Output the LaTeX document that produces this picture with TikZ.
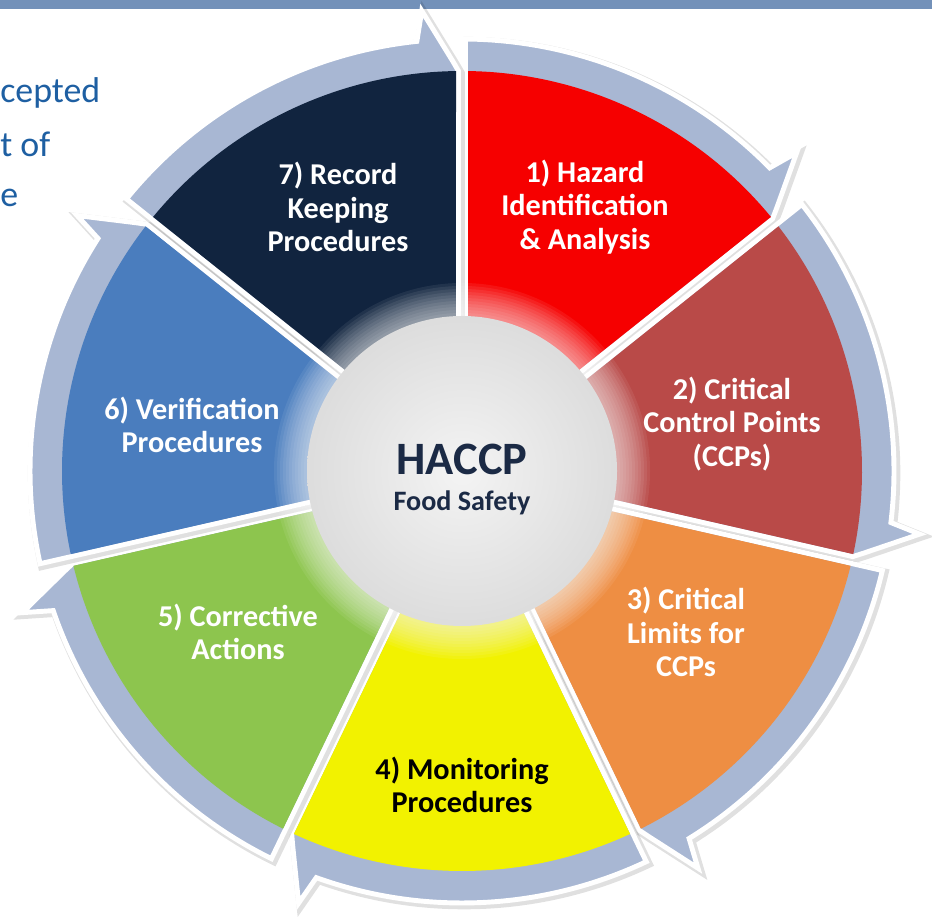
\documentclass[tikz,border=0pt]{standalone}
\usepackage{fontspec}
\setmainfont{Carlito}
\usetikzlibrary{calc}
\definecolor{hzred}{HTML}{F60000}
\definecolor{ccpred}{HTML}{B94A48}
\definecolor{limorange}{HTML}{EE8E43}
\definecolor{monyellow}{HTML}{F2F200}
\definecolor{corgreen}{HTML}{8DC54E}
\definecolor{verblue}{HTML}{4A7DBE}
\definecolor{recnavy}{HTML}{11243F}
\definecolor{bandgray}{HTML}{A8B7D3}
\definecolor{haccpnavy}{HTML}{1B2A45}
\definecolor{slideblue}{HTML}{1E5FA2}
\definecolor{stripblue}{HTML}{7391B9}

\begin{document}
\begin{tikzpicture}[x=0.025cm, y=0.025cm,
    bandshape/.style={fill=bandgray, draw=white, line width=3.5pt, line join=miter,
      preaction={draw=black, opacity=.12, line width=6pt, line join=miter,
        transform canvas={shift={(1.5pt,-1.5pt)}}}},
    steplabel/.style={align=center, text=white, font=\bfseries\fontsize{21.5}{24}\selectfont},
    slidetext/.style={inner sep=0pt, text=slideblue, font=\fontsize{25.5}{28}\selectfont}]
  \useasboundingbox (0,0) rectangle (932,920);
  % strip of the slide header
  \fill[stripblue] (0,911) rectangle (932,920);
  % the seven wedges, clockwise from the top
  \begin{scope}[shift={(462,449)}]
    \foreach \k/\col in {0/hzred,1/ccpred,2/limorange,3/monyellow,4/corgreen,5/verblue,6/recnavy}{
      \pgfmathsetmacro\sa{90-\k*360/7}
      \pgfmathsetmacro\ea{\sa-360/7}
      \pgfmathsetmacro\ma{\sa-180/7}
      \pgfmathsetmacro\sb{\sa-asin(3.5/432)}
      \pgfmathsetmacro\se{\ea+asin(3.5/400)}
      \pgfmathsetmacro\sc{\sa-asin(6/400)}
      \pgfmathsetmacro\ec{\ea+asin(6/400)}
      \pgfmathsetmacro\hb{\ea+6}
      \pgfmathsetmacro\hw{\ea+5}
      \pgfmathsetmacro\ht{\ea+1.3}
      % arrow band with its head
      \filldraw[bandshape] (\ma:8) -- (\sb:432) arc[start angle=\sb, end angle=\hb, radius=432]
        -- (\hw:462) -- (\ht:410) -- (\se:400) -- cycle;
      % coloured wedge
      \fill[\col] (\ma:14) -- (\sc:400) arc[start angle=\sc, end angle=\ec, radius=400] -- cycle;
    }
    % glowing hub
    \foreach \r in {158,161,...,188}
      \fill[white, opacity=.07] (0,0) circle[radius=\r];
    \shade[inner color=gray!9, outer color=gray!27] (0,0) circle[radius=155];
  \end{scope}

  \node[steplabel] (hazard) at (585,713) {1) Hazard\\Identification\\\& Analysis};
  \node[steplabel] (ccp) at (732,496) {2) Critical\\Control Points\\(CCPs)};
  \node[steplabel] (limits) at (686,288) {3) Critical\\Limits for\\CCPs};
  \node[steplabel, text=black] (monitor) at (462,135) {4) Monitoring\\Procedures};
  \node[steplabel] (corrective) at (238,288) {5) Corrective\\Actions};
  \node[steplabel] (verify) at (192,495) {6) Verification\\Procedures};
  \node[steplabel] (record) at (338,713) {7) Record\\Keeping\\Procedures};
  \node[text=haccpnavy, font=\bfseries\fontsize{33}{36}\selectfont] (haccp) at (462,461) {HACCP};
  \node[text=haccpnavy, font=\bfseries\fontsize{20}{24}\selectfont] (foodsafety) at (462,417) {Food Safety};

  % cut-off slide text on the left
  \node[slidetext, anchor=base west] (lineA) at (0,817) {cepted};
  \node[slidetext, anchor=base west] (lineB) at (0,763) {t of};
  \node[slidetext, anchor=base west] (lineC) at (0,713) {e};
\end{tikzpicture}
\end{document}
